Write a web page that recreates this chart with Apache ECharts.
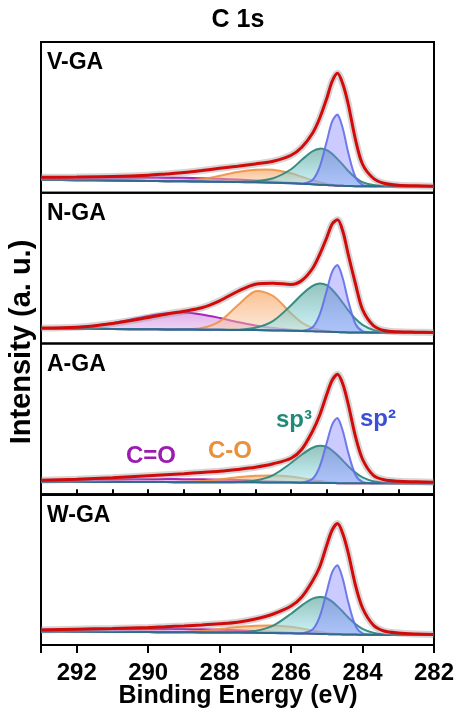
<!DOCTYPE html>
<html>
<head>
<meta charset="utf-8">
<title>C 1s</title>
<script src="https://cdn.jsdelivr.net/npm/echarts@6.0.0/dist/echarts.min.js"></script>
<style>
  html, body { margin: 0; padding: 0; background: #fff; }
  #chart { width: 459px; height: 710px; }
</style>
</head>
<body>
<div id="chart"></div>
<script>
// binding energy (eV) of the sample points, same for every curve
const energy = [293, 292, 291, 290, 289.5, 289, 288.5, 288, 287.5, 287, 286.5, 286, 285.7, 285.4, 285.2, 285.0, 284.85, 284.7, 284.55, 284.4, 284.2, 284.0, 283.7, 283.4, 283, 282.5, 282];

// V-GA  (background and envelope are absolute, the peaks are heights above the background)
const vgaBase = [13, 12.6, 12.2, 11.8, 11.6, 11.4, 11.2, 11, 10.7, 10.4, 10, 9.5, 9, 8.5, 8.1, 7.7, 7.4, 7.1, 6.9, 6.7, 6.6, 6.5, 6.5, 6.5, 6.5, 6.5, 6.5];
const vgaFit = [15.5, 15.7, 16.2, 17.5, 18.8, 20.2, 22.2, 24.5, 26.5, 28.8, 31.5, 37.5, 45.5, 59.5, 74.5, 94.5, 111.5, 119.5, 108.5, 88.5, 53.5, 28.5, 14.5, 9.5, 7.5, 7, 6.5];
const vgaSp2 = [0, 0, 0, 0, 0, 0, 0, 0, 0, 0, 0, 0, 0.1, 4.3, 17.8, 44, 64, 71, 57, 33.4, 9.2, 1.4, 0, 0, 0, 0, 0];
const vgaSp3 = [0, 0, 0, 0, 0, 0, 0, 0, 0.2, 1.1, 4.5, 14, 24, 33, 36, 35, 31.5, 26.5, 21, 15, 8.5, 4, 1.2, 0.3, 0, 0, 0];
const vgaCO = [0, 0, 0, 0, 0, 0.5, 2.5, 6, 10, 12.5, 13, 10, 7, 4, 2.5, 1.3, 0.7, 0.3, 0.1, 0, 0, 0, 0, 0, 0, 0, 0];
const vgaCdO = [2.2, 2.6, 3, 3.4, 3.5, 3.5, 3.3, 3, 2.5, 1.9, 1.2, 0.6, 0.3, 0.1, 0, 0, 0, 0, 0, 0, 0, 0, 0, 0, 0, 0, 0];

// N-GA
const ngaBase = [15, 14.8, 14.5, 14.2, 14.1, 14, 13.8, 13.7, 13.5, 13.4, 13.1, 12.8, 12.5, 12.2, 12, 11.8, 11.6, 11.4, 11.2, 11.1, 11, 11, 11, 11, 11, 11, 11];
const ngaFit = [15.5, 16.2, 20, 26, 29.3, 32.3, 35.7, 42.7, 52, 59.3, 60.3, 59, 63, 75, 89, 106, 119.5, 123.7, 112, 89, 60, 34, 18, 13, 11.7, 11.3, 11];
const ngaSp2 = [0, 0, 0, 0, 0, 0, 0, 0, 0, 0, 0, 0, 0.1, 4, 16.8, 41.5, 60.3, 67, 53.6, 31.5, 8.7, 1.3, 0, 0, 0, 0, 0];
const ngaSp3 = [0, 0, 0, 0, 0, 0, 0, 0, 0.3, 2.3, 9.6, 25.4, 36.5, 45.4, 48, 46.6, 42.2, 36.2, 29.3, 22.1, 13.7, 7.7, 2.6, 0.7, 0, 0, 0];
const ngaCO = [0, 0, 0, 0, 0, 0.2, 1.6, 8.4, 24.4, 38.8, 34.4, 17.2, 8.4, 3.3, 1.6, 0.7, 0.4, 0.2, 0, 0, 0, 0, 0, 0, 0, 0, 0];
const ngaCdO = [0.2, 1.4, 5.8, 13.4, 16.2, 17, 15.3, 11.9, 8, 4.6, 2.3, 1, 0.6, 0.3, 0.2, 0.1, 0, 0, 0, 0, 0, 0, 0, 0, 0, 0, 0];

// A-GA
const agaBase = [12.5, 12.4, 12.3, 12.2, 12.15, 12.1, 12.05, 12, 11.95, 11.9, 11.8, 11.7, 11.6, 11.5, 11.4, 11.3, 11.2, 11.1, 11.05, 11, 11, 11, 11, 11, 11, 11, 11];
const agaFit = [14, 15, 16.5, 18.5, 19.5, 20.5, 21.8, 23, 24.8, 27, 30.5, 36, 45, 63, 79, 100, 114, 120, 110, 90, 58, 35, 19, 14.5, 13, 12.5, 12];
const agaSp2 = [0, 0, 0, 0, 0, 0, 0, 0, 0, 0, 0, 0, 0.1, 3.9, 16.3, 40.3, 58.5, 65, 52, 30.6, 8.5, 1.3, 0, 0, 0, 0, 0];
const agaSp3 = [0, 0, 0, 0, 0, 0, 0, 0, 0.3, 1.8, 7.4, 19.6, 28.1, 35, 37, 35.9, 32.6, 27.9, 22.6, 17, 10.6, 5.9, 2, 0.5, 0, 0, 0];
const agaCO = [0, 0, 0, 0, 0, 0.3, 1.2, 3, 5, 6.5, 7, 6, 4.5, 2.8, 1.8, 1, 0.5, 0.2, 0.1, 0, 0, 0, 0, 0, 0, 0, 0];
const agaCdO = [1.8, 2.1, 2.5, 2.8, 3, 3, 2.9, 2.6, 2.2, 1.7, 1.1, 0.6, 0.3, 0.1, 0, 0, 0, 0, 0, 0, 0, 0, 0, 0, 0, 0, 0];

// W-GA
const wgaBase = [13.5, 13.3, 13.1, 12.9, 12.8, 12.7, 12.6, 12.5, 12.4, 12.2, 12, 11.7, 11.5, 11.3, 11.1, 10.9, 10.8, 10.7, 10.6, 10.5, 10.4, 10.3, 10.2, 10.1, 10, 10, 10];
const wgaFit = [15, 15.8, 16.5, 17.5, 18.3, 19, 20, 21.2, 22.8, 26, 31, 39, 48, 64, 78, 100, 115, 121.5, 111, 92, 60, 37, 20, 14, 12, 11, 10.5];
const wgaSp2 = [0, 0, 0, 0, 0, 0, 0, 0, 0, 0, 0, 0, 0.1, 4.1, 17.3, 42.8, 62.1, 69, 55.2, 32.4, 9, 1.4, 0, 0, 0, 0, 0];
const wgaSp3 = [0, 0, 0, 0, 0, 0, 0, 0, 0.3, 1.8, 7.4, 19.6, 28.1, 35, 37, 35.9, 32.6, 27.9, 22.6, 17, 10.6, 5.9, 2, 0.5, 0, 0, 0];
const wgaCO = [0, 0, 0, 0, 0, 0.4, 1.5, 3.5, 5.5, 7, 7.5, 6.5, 5, 3.2, 2, 1.1, 0.6, 0.3, 0.1, 0, 0, 0, 0, 0, 0, 0, 0];
const wgaCdO = [2, 2.3, 2.7, 3, 3.2, 3.2, 3.1, 2.8, 2.3, 1.8, 1.2, 0.6, 0.3, 0.1, 0, 0, 0, 0, 0, 0, 0, 0, 0, 0, 0, 0, 0];

const sampleNames = ['V-GA', 'N-GA', 'A-GA', 'W-GA'];
const xTicks = [282, 284, 286, 288, 290, 292];
const peakLabels = ['C=O', 'C-O', 'sp\u00b3', 'sp\u00b2'];

const panels = [
  { base: vgaBase, fit: vgaFit, cdo: vgaCdO, co: vgaCO, sp3: vgaSp3, sp2: vgaSp2 },
  { base: ngaBase, fit: ngaFit, cdo: ngaCdO, co: ngaCO, sp3: ngaSp3, sp2: ngaSp2 },
  { base: agaBase, fit: agaFit, cdo: agaCdO, co: agaCO, sp3: agaSp3, sp2: agaSp2 },
  { base: wgaBase, fit: wgaFit, cdo: wgaCdO, co: wgaCO, sp3: wgaSp3, sp2: wgaSp2 }
];

const FONT = '"Liberation Sans", Arial, Helvetica, sans-serif';
const LEFT = 41, RIGHT = 25, TOP = 42, PH = 150.75;

function pairs(ys) {
  return energy.map((e, i) => [e, ys[i]]);
}
function grad(top, bottom) {
  return new echarts.graphic.LinearGradient(0, 0, 0, 1, [
    { offset: 0, color: top },
    { offset: 1, color: bottom }
  ]);
}

// drawn in this order, sp2 ends up on top
const comps = [
  { key: 'cdo', line: 'rgba(165,25,185,0.95)', fill: grad('rgba(196,100,214,0.5)', 'rgba(214,150,228,0.38)') },
  { key: 'co', line: 'rgba(240,145,70,0.9)', fill: grad('rgba(246,155,80,0.62)', 'rgba(250,205,170,0.45)') },
  { key: 'sp3', line: 'rgba(48,136,124,0.95)', fill: grad('rgba(60,145,135,0.55)', 'rgba(165,235,245,0.55)') },
  { key: 'sp2', line: 'rgba(98,110,232,0.9)', fill: 'rgba(125,125,255,0.4)' }
];

// one fitted peak: filled between the background and background + peak
function peakSeries(i, c) {
  const p = panels[i];
  const ys = p[c.key];
  return {
    type: 'custom', coordinateSystem: 'cartesian2d', xAxisIndex: i, yAxisIndex: i,
    silent: true, data: [[energy[0], p.base[0]]],
    renderItem: function (params, api) {
      const top = energy.map((e, k) => api.coord([e, p.base[k] + ys[k]]));
      const bottom = energy.map((e, k) => api.coord([e, p.base[k]])).reverse();
      return {
        type: 'group',
        children: [
          { type: 'polygon', shape: { points: top.concat(bottom), smooth: 0.3 }, style: { fill: c.fill } },
          { type: 'polyline', shape: { points: top, smooth: 0.3 }, style: { stroke: c.line, lineWidth: 2, fill: null } }
        ]
      };
    }
  };
}

let grids = [], xAxes = [], yAxes = [], series = [];

panels.forEach((p, i) => {
  grids.push({
    left: LEFT, right: RIGHT, top: TOP + i * PH, height: PH,
    show: true, borderColor: '#000', borderWidth: 2, backgroundColor: 'transparent'
  });
  const last = i === panels.length - 1;
  xAxes.push({
    gridIndex: i, type: 'value', min: 282, max: 293, interval: 2, inverse: true,
    show: last,
    axisLine: { show: true, lineStyle: { color: '#000', width: 2 } },
    axisTick: { show: true, length: 8, lineStyle: { color: '#000', width: 2 } },
    axisLabel: {
      show: true, margin: 16, color: '#000', fontFamily: FONT, fontWeight: 'bold', fontSize: 24,
      formatter: v => (xTicks.indexOf(v) >= 0 ? String(v) : '')
    },
    splitLine: { show: false }
  });
  yAxes.push({ gridIndex: i, type: 'value', min: 0, max: PH, show: false });

  comps.forEach(c => series.push(peakSeries(i, c)));

  // background line
  series.push({
    type: 'line', xAxisIndex: i, yAxisIndex: i, data: pairs(p.base),
    symbol: 'none', smooth: 0.3, silent: true, lineStyle: { color: '#2f6b8c', width: 2 }
  });
  // raw data (grey) under the envelope
  series.push({
    type: 'line', xAxisIndex: i, yAxisIndex: i, data: pairs(p.fit),
    symbol: 'none', smooth: 0.3, silent: true, lineStyle: { color: 'rgba(150,150,150,0.4)', width: 7 }
  });
  series.push({
    type: 'line', xAxisIndex: i, yAxisIndex: i, data: pairs(p.fit),
    symbol: 'none', smooth: 0.3, silent: true, lineStyle: { color: '#d20a0a', width: 3 }
  });
});

// minor ticks on odd values of the bottom axis
xAxes.push({
  gridIndex: 3, type: 'value', min: 282, max: 293, interval: 1, inverse: true,
  axisLine: { show: true, lineStyle: { color: '#000', width: 2 } },
  axisTick: { show: true, length: 5, lineStyle: { color: '#000', width: 2 } },
  axisLabel: { show: false },
  splitLine: { show: false }
});

function txt(text, x, y, size, color, align, rot) {
  return {
    type: 'text', x: x, y: y, rotation: rot || 0, z: 100,
    style: {
      text: text, fill: color, font: 'bold ' + size + 'px ' + FONT,
      align: align, textAlign: align, verticalAlign: 'middle', textVerticalAlign: 'middle'
    }
  };
}

let graphics = [
  txt('C 1s', 238, 20, 25, '#000', 'center'),
  txt('Binding Energy (eV)', 238, 696, 25, '#000', 'center'),
  txt('Intensity (a. u.)', 22, 342, 29, '#000', 'center', Math.PI / 2)
];
sampleNames.forEach((n, i) => {
  graphics.push(txt(n, 47, TOP + i * PH + 21, 23, '#000', 'left'));
});
// peak names in the A-GA panel
graphics.push(txt(peakLabels[0], 151, 456, 24, '#9a1db0', 'center'));
graphics.push(txt(peakLabels[1], 230, 451, 24, '#e8903c', 'center'));
graphics.push(txt(peakLabels[2], 294, 420, 24, '#1f8a78', 'center'));
graphics.push(txt(peakLabels[3], 378, 419, 24, '#3b4fd6', 'center'));

const chart = echarts.init(document.getElementById('chart'));
chart.setOption({
  animation: false,
  backgroundColor: '#fff',
  grid: grids,
  xAxis: xAxes,
  yAxis: yAxes,
  series: series,
  graphic: graphics
});
window.addEventListener('resize', () => chart.resize());
</script>
</body>
</html>
